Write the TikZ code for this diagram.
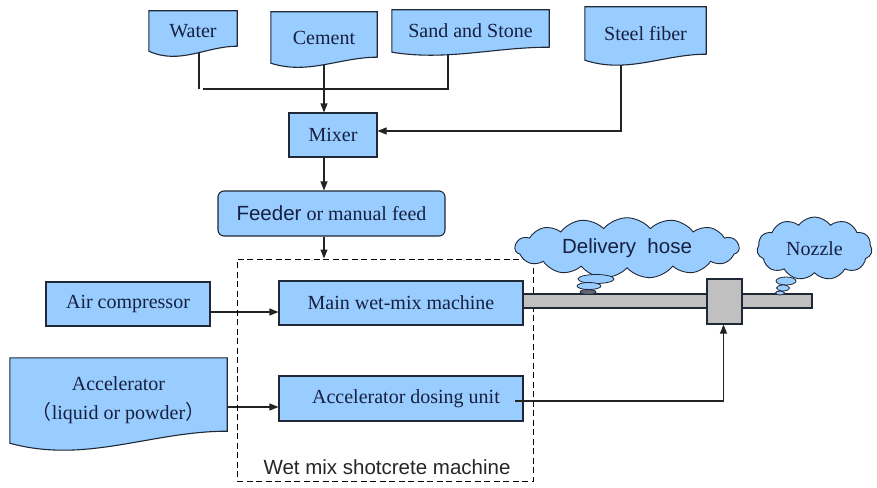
\documentclass[tikz,border=0pt]{standalone}
\usepackage{fontspec}
\setmainfont{Liberation Serif}
\setsansfont{Liberation Sans}
\newfontfamily\cjk{Noto Sans CJK SC}
\usetikzlibrary{arrows.meta,shapes.symbols,shapes.geometric,calc}
\pgfdeclarelayer{back}
\pgfdeclarelayer{mid}
\pgfsetlayers{back,mid,main}
\definecolor{boxblue}{RGB}{153,204,255}
\definecolor{ink}{RGB}{22,32,64}
\definecolor{edge}{RGB}{30,40,55}
\definecolor{pipegray}{RGB}{192,192,192}
\definecolor{wire}{RGB}{35,35,35}
\tikzset{
  txt/.style={font=\fontsize{20}{30}\selectfont, text=ink},
  stxt/.style={font=\sffamily\fontsize{20.5}{24}\selectfont, text=ink},
  box/.style={rectangle, draw=edge, fill=boxblue, line width=1.1pt, inner sep=0pt, txt},
  docnode/.style={rectangle, inner sep=0pt, txt},
  docfill/.style={draw=edge, fill=boxblue, line width=1.1pt},
  conn/.style={draw=wire, line width=1.1pt},
  arr/.style={conn, -{Triangle[length=9pt,width=7pt]}},
  graybox/.style={rectangle, draw=edge, fill=pipegray, line width=1.1pt, inner sep=0pt},
  thought/.style={cloud, draw=edge, fill=boxblue, line width=0.9pt, inner sep=0pt},
  bubble/.style={ellipse, draw=edge, fill=boxblue, line width=0.8pt, inner sep=0pt},
  dashbox/.style={rectangle, draw=black, line width=1pt, dash pattern=on 6pt off 3.5pt, inner sep=0pt}
}
\newcommand\docwave[3]{\path[docfill] let \p1=(#1.south west), \p2=(#1.north east), \n1={\x2-\x1} in
  (\x1,\y2) -- (\x2,\y2) -- (\x2,\y1+#2pt) .. controls (\x2-0.35*\n1,\y1+#2pt) and (\x1+0.35*\n1,\y1-#3pt) .. (\x1,\y1) -- cycle;}
\begin{document}
\begin{tikzpicture}[x=1pt,y=-1pt]
\useasboundingbox (0,0) rectangle (877,487);
% document-shaped inputs (text on main layer)
\node[docnode, minimum width=88, minimum height=40] (water) at (193,31) {Water};
\node[docnode, minimum width=106, minimum height=51] (cement) at (324,37.5) {Cement};
\node[docnode, minimum width=157, minimum height=42] (sand) at (470.5,31) {Sand and Stone};
\node[docnode, minimum width=121, minimum height=53] (steel) at (645.5,33.5) {Steel fiber};
\node[docnode, minimum width=217, minimum height=85, align=center] (acc) at (118.5,400.5)
  {Accelerator\\[-1pt]{\cjk （}liquid or powder{\cjk ）}};
\begin{pgfonlayer}{mid}
\docwave{water}{5}{14}
\docwave{cement}{6}{12}
\docwave{sand}{5}{9}
\docwave{steel}{6}{14}
\docwave{acc}{12}{21}
\end{pgfonlayer}
% process boxes
\node[box, minimum width=88, minimum height=44] (mixer) at (333,135) {Mixer};
\node[box, rounded corners=6pt, minimum width=227, minimum height=45] (feeder) at (331.5,213.5)
  {{\sffamily\fontsize{20.5}{24}\selectfont Feeder} or manual feed};
\node[dashbox, minimum width=296, minimum height=222] (machine) at (385,370) {};
\node[stxt, text=black!85] (machinelabel) at (387,467) {Wet mix shotcrete machine};
\node[box, minimum width=164, minimum height=44] (air) at (128,304) {Air compressor};
\node[box, minimum width=244, minimum height=44] (main) at (401,303) {Main wet-mix machine};
\node[box, minimum width=244, minimum height=45] (dosing) at (401,398.5) {\hspace{10pt}Accelerator dosing unit};
\node[graybox, minimum width=289, minimum height=14] (pipe) at (667.5,301) {};
\node[graybox, minimum width=35, minimum height=45] (valve) at (724.5,301.5) {};
% clouds
\node[thought, cloud puffs=15, cloud puff arc=100, aspect=4.2, minimum width=224, minimum height=58, stxt] (hose) at (627,248) {Delivery~ hose};
\node[bubble, minimum width=36, minimum height=9] (hb1) at (596,279) {};
\node[bubble, minimum width=24, minimum height=7] (hb2) at (589,286) {};
\node[bubble, minimum width=16, minimum height=5, fill=edge!70] (hb3) at (588,292) {};
\node[thought, cloud puffs=11, cloud puff arc=110, aspect=1.9, minimum width=115, minimum height=63, txt] (nozzle) at (814.5,248.5) {Nozzle};
\node[bubble, minimum width=20, minimum height=8] (nb1) at (786,281) {};
\node[bubble, minimum width=13, minimum height=6] (nb2) at (783,288) {};
\node[bubble, minimum width=9, minimum height=4] (nb3) at (780,293) {};
% junction coordinates
\coordinate (j1) at (199,89);
\coordinate (j2) at (203,89);
\coordinate (j3) at (448,89);
\coordinate (c1) at (324,89);
\coordinate (s1) at (621,131);
\coordinate (a1) at (0,312);
\coordinate (a2) at (0,407);
\coordinate (d1) at (515,401);
\coordinate (d2) at (723.5,401);
\begin{pgfonlayer}{back}
\draw[conn] (water.south -| j1) -- (j1);
\draw[conn] (j2) -- (j3) -- (j3 |- sand.south);
\draw[arr] (cement.south -| c1) -- (mixer.north -| c1);
\draw[arr] (steel.south -| s1) -- (s1) -- (s1 -| mixer.east);
\draw[arr] (mixer.south -| c1) -- (feeder.north -| c1);
\draw[arr] (feeder.south -| c1) -- (machine.north -| c1);
\draw[arr] (air.east |- a1) -- (main.west |- a1);
\draw[arr] (acc.east |- a2) -- (dosing.west |- a2);
\end{pgfonlayer}
\draw[arr] (d1) -- (d2) -- (d2 |- valve.south);
\end{tikzpicture}
\end{document}
